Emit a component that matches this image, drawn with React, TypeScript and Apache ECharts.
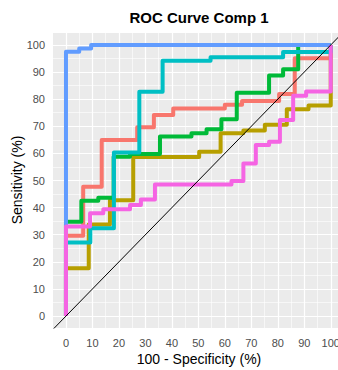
import React, { useEffect, useRef } from "react";
import * as echarts from "echarts";

// ROC curves: x = 100 - specificity (%), y = sensitivity (%)
const redX = [0, 0, 6.5, 6.5, 13.5, 13.5, 26.9, 26.9, 33.2, 33.2, 40.5, 40.5, 60, 60, 66.5, 66.5, 80.5, 80.5, 86.4, 86.4, 100, 100];
const redY = [0, 29.6, 29.6, 47.7, 47.7, 64.9, 64.9, 69.6, 69.6, 74.2, 74.2, 76.6, 76.6, 77.9, 77.9, 79.3, 79.3, 81.9, 81.9, 95.1, 95.1, 100];

const oliveX = [0, 0, 8.6, 8.6, 16.6, 16.6, 25.4, 25.4, 50.3, 50.3, 58.4, 58.4, 67, 67, 75.1, 75.1, 83.4, 83.4, 91.6, 91.6, 100, 100];
const oliveY = [0, 17.6, 17.6, 33.8, 33.8, 42.7, 42.7, 58.7, 58.7, 60.6, 60.6, 67.4, 67.4, 68.4, 68.4, 70.6, 70.6, 76.3, 76.3, 77.7, 77.7, 100];

const greenX = [0, 0, 5.8, 5.8, 12.2, 12.2, 18, 18, 24.2, 24.2, 35.5, 35.5, 47.4, 47.4, 53.1, 53.1, 58.7, 58.7, 64.5, 64.5, 76.7, 76.7, 82, 82, 87.7, 87.7, 100];
const greenY = [0, 34.8, 34.8, 42.5, 42.5, 43.6, 43.6, 58.8, 58.8, 59.8, 59.8, 66.2, 66.2, 67.4, 67.4, 68.9, 68.9, 72.6, 72.6, 82.4, 82.4, 88.7, 88.7, 91, 91, 100, 100];

const cyanX = [0, 0, 9.2, 9.2, 18.1, 18.1, 27.7, 27.7, 36.5, 36.5, 54.6, 54.6, 82, 82, 100, 100];
const cyanY = [0, 27.1, 27.1, 32.4, 32.4, 60.3, 60.3, 82.7, 82.7, 94.2, 94.2, 95.5, 95.5, 97.4, 97.4, 100];

const blueX = [0, 0, 5, 5, 9.5, 9.5, 100];
const blueY = [0, 97.5, 97.5, 98.7, 98.7, 100, 100];

const pinkX = [0, 0, 9.1, 9.1, 14.1, 14.1, 24.2, 24.2, 28.3, 28.3, 33.6, 33.6, 62.5, 62.5, 67, 67, 71.7, 71.7, 76.7, 76.7, 80.8, 80.8, 85.8, 85.8, 90.7, 90.7, 100, 100];
const pinkY = [0, 33, 33, 37.9, 37.9, 39.4, 39.4, 41, 41, 43, 43, 48.5, 48.5, 49.8, 49.8, 56.3, 56.3, 63.1, 63.1, 64.3, 64.3, 72.3, 72.3, 81.3, 81.3, 82.8, 82.8, 100];

const diagX = [-10, 110];
const diagY = [-10, 110];

const majorTicks = [0, 10, 20, 30, 40, 50, 60, 70, 80, 90, 100];
const minorTicks = [5, 15, 25, 35, 45, 55, 65, 75, 85, 95];

const curveColors = ["#F8766D", "#B79F00", "#00BA38", "#00BFC4", "#619CFF", "#F564E3"];

const FONT = "Liberation Sans, Arial, sans-serif";

function pairs(xs: number[], ys: number[]) {
  return xs.map((x, i) => [x, ys[i]]);
}

export default function App() {
  const ref = useRef<HTMLDivElement>(null);

  useEffect(() => {
    if (!ref.current) return;
    const chart = echarts.init(ref.current, null, { renderer: "svg" });

    const curves = [
      pairs(redX, redY),
      pairs(oliveX, oliveY),
      pairs(greenX, greenY),
      pairs(cyanX, cyanY),
      pairs(blueX, blueY),
      pairs(pinkX, pinkY),
    ];

    const gridLineData: any[] = [];
    majorTicks.forEach((v) => {
      gridLineData.push({ xAxis: v, lineStyle: { width: 1.2 } });
      gridLineData.push({ yAxis: v, lineStyle: { width: 1.2 } });
    });
    minorTicks.forEach((v) => {
      gridLineData.push({ xAxis: v, lineStyle: { width: 0.6 } });
      gridLineData.push({ yAxis: v, lineStyle: { width: 0.6 } });
    });

    const axisCommon = {
      type: "value",
      splitLine: { show: false },
      axisLine: { show: false },
      axisTick: {
        show: true,
        length: 4,
        customValues: majorTicks,
        lineStyle: { color: "#333333", width: 1 },
      },
    };

    chart.setOption({
      animation: false,
      backgroundColor: "#ffffff",
      grid: {
        left: 53,
        right: -6,
        top: 33,
        bottom: 42,
        show: true,
        backgroundColor: "#EBEBEB",
        borderWidth: 0,
        outerBoundsMode: "none",
      },
      xAxis: {
        ...axisCommon,
        min: -4.9,
        max: 105,
        axisLabel: {
          customValues: majorTicks,
          fontSize: 11,
          color: "#4D4D4D",
          fontFamily: FONT,
          margin: 9,
        },
      },
      yAxis: {
        ...axisCommon,
        min: -4.4,
        max: 104.4,
        axisLabel: {
          customValues: majorTicks,
          fontSize: 11,
          color: "#4D4D4D",
          fontFamily: FONT,
          margin: 8,
        },
      },
      graphic: [
        {
          type: "text",
          x: 199,
          y: 17,
          style: {
            text: "ROC Curve Comp 1",
            fontSize: 15,
            fontWeight: "bold",
            fontFamily: FONT,
            fill: "#000000",
            align: "center",
            verticalAlign: "middle",
          },
        },
        {
          type: "text",
          x: 199,
          y: 359,
          style: {
            text: "100 - Specificity (%)",
            fontSize: 14,
            fontFamily: FONT,
            fill: "#000000",
            align: "center",
            verticalAlign: "middle",
          },
        },
        {
          type: "text",
          x: 17,
          y: 180,
          rotation: Math.PI / 2,
          style: {
            text: "Sensitivity (%)",
            fontSize: 14,
            fontFamily: FONT,
            fill: "#000000",
            align: "center",
            verticalAlign: "middle",
          },
        },
      ],
      series: [
        {
          type: "line",
          data: [],
          silent: true,
          markLine: {
            z: 1,
            silent: true,
            symbol: ["none", "none"],
            label: { show: false },
            lineStyle: { type: "solid", color: "#FFFFFF" },
            emphasis: { disabled: true },
            data: gridLineData,
          },
        },
        ...curves.map((d, i) => ({
          type: "line",
          data: d,
          showSymbol: false,
          symbol: "none",
          silent: true,
          z: 2,
          lineStyle: { color: curveColors[i], width: 4, join: "round", cap: "butt" },
        })),
        {
          type: "line",
          data: pairs(diagX, diagY),
          showSymbol: false,
          symbol: "none",
          silent: true,
          z: 3,
          clip: true,
          lineStyle: { color: "#000000", width: 1 },
        },
      ],
    });

    return () => {
      chart.dispose();
    };
  }, []);

  return (
    <div
      ref={ref}
      style={{ position: "fixed", left: 0, top: 0, width: 338, height: 370, background: "#fff" }}
    />
  );
}
